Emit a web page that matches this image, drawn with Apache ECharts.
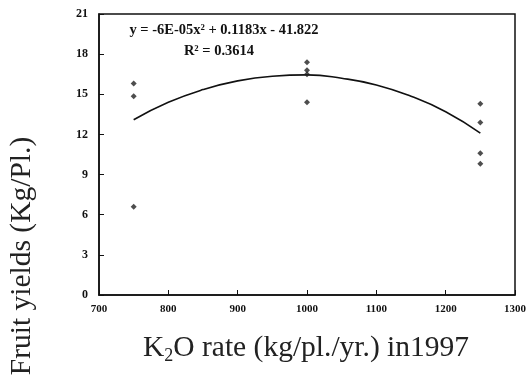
<!DOCTYPE html>
<html><head><meta charset="utf-8">
<script src="https://cdn.jsdelivr.net/npm/echarts@6/dist/echarts.min.js"></script>
<style>html,body{margin:0;padding:0;background:#fff}#c{width:531px;height:378px}</style>
</head><body><div id="c"></div>
<script>
// Observed data points (K2O rate, fruit yield)
var rate750 = [15.8, 14.85, 6.6];
var rate1000 = [17.4, 16.8, 16.5, 14.4];
var rate1250 = [14.3, 12.9, 10.6, 9.8];
// Trend curve points
var trendX = [750, 800, 850, 900, 950, 1000, 1050, 1100, 1150, 1200, 1250];
var trendY = [13.1, 14.4, 15.35, 16.0, 16.35, 16.45, 16.2, 15.7, 14.85, 13.7, 12.1];
var xTicks = [700, 800, 900, 1000, 1100, 1200, 1300];
var yTicks = [0, 3, 6, 9, 12, 15, 18, 21];

var pts = [];
rate750.forEach(function(v){ pts.push([750, v]); });
rate1000.forEach(function(v){ pts.push([1000, v]); });
rate1250.forEach(function(v){ pts.push([1250, v]); });
var trend = trendX.map(function(x, i){ return [x, trendY[i]]; });

var chart = echarts.init(document.getElementById('c'));
chart.setOption({
  animation: false,
  grid: {left: 99, right: 16, top: 14, bottom: 83, show: true, borderColor: '#111', borderWidth: 1.5},
  xAxis: {
    type: 'value', min: xTicks[0], max: xTicks[xTicks.length - 1], interval: 100,
    axisLine: {show: true, lineStyle: {color: '#111', width: 1.5}},
    axisTick: {show: true, inside: true, length: 5, lineStyle: {color: '#111'}},
    splitLine: {show: false},
    axisLabel: {margin: 9, fontFamily: 'Liberation Serif', fontWeight: 'bold', fontSize: 11, color: '#111',
      formatter: function(v){ return String(v); }}
  },
  yAxis: {
    type: 'value', min: yTicks[0], max: yTicks[yTicks.length - 1], interval: 3,
    axisLine: {show: true, lineStyle: {color: '#111', width: 1.5}},
    axisTick: {show: true, inside: true, length: 5, lineStyle: {color: '#111'}},
    splitLine: {show: false},
    axisLabel: {margin: 11, fontFamily: 'Liberation Serif', fontWeight: 'bold', fontSize: 12, color: '#111'}
  },
  series: [
    {type: 'line', data: trend, smooth: true, symbol: 'none',
     lineStyle: {color: '#111', width: 1.6}, z: 2},
    {type: 'scatter', data: pts, symbol: 'diamond', symbolSize: 6,
     itemStyle: {color: '#222'}, z: 3}
  ],
  graphic: [
    {type: 'text', x: 224, y: 30,
     style: {text: 'y = -6E-05x² + 0.1183x - 41.822', font: 'bold 14.5px "Liberation Serif"', fill: '#111',
             textAlign: 'center', textVerticalAlign: 'middle'}},
    {type: 'text', x: 219, y: 51,
     style: {text: 'R² = 0.3614', font: 'bold 14.5px "Liberation Serif"', fill: '#111',
             textAlign: 'center', textVerticalAlign: 'middle'}},
    {type: 'text', left: 143, top: 333,
     style: {
       text: '{a|K}{s|2}{a|O rate (kg/pl./yr.) in1997}',
       rich: {
         a: {fontFamily: 'Liberation Serif', fontSize: 29.5, fill: '#222'},
         s: {fontFamily: 'Liberation Serif', fontSize: 18, fill: '#222', padding: [17, 0, 0, 0]}
       }
     }},
    {type: 'text', x: 22, y: 256, rotation: Math.PI / 2,
     style: {text: 'Fruit yields (Kg/Pl.)', font: '29.5px "Liberation Serif"', fill: '#222',
             textAlign: 'center', textVerticalAlign: 'middle'}}
  ]
});
</script>
</body></html>
